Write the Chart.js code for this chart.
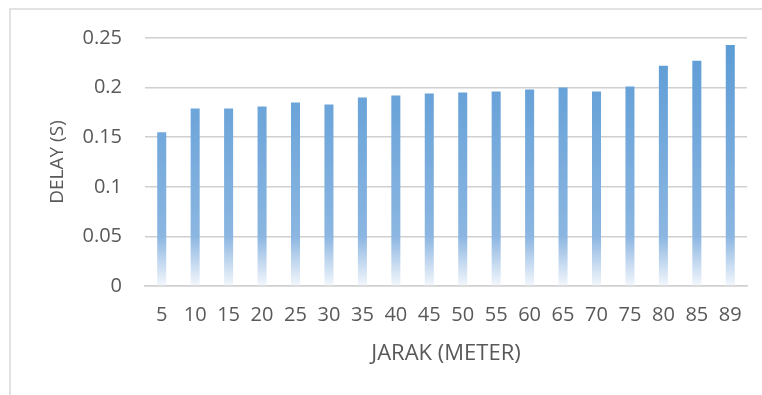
<!DOCTYPE html>
<html>
<head>
<meta charset="utf-8">
<script src="https://cdn.jsdelivr.net/npm/chart.js@4"></script>
<style>
  html, body { margin: 0; padding: 0; background: #fff; }
  #wrap { position: relative; width: 762px; height: 395px; }
</style>
</head>
<body>
<div id="wrap"><canvas id="delay-chart" width="762" height="395"></canvas></div>
<script>
// jarak (meter) vs delay (s)
const jarak = ["5", "10", "15", "20", "25", "30", "35", "40", "45", "50", "55", "60", "65", "70", "75", "80", "85", "89"];
const delay = [0.155, 0.179, 0.179, 0.181, 0.185, 0.183, 0.190, 0.192, 0.194, 0.195, 0.196, 0.198, 0.200, 0.196, 0.201, 0.222, 0.227, 0.243];
const yTicks = [0, 0.05, 0.1, 0.15, 0.2, 0.25];

const abuTeks = "#595959";
const abuGaris = "#d0d0d0";

// warna batang: biru di atas, memudar ke putih dekat sumbu
function isiBatang(context) {
  const chart = context.chart;
  const area = chart.chartArea;
  if (!area) return "#5b9bd5";
  const y = chart.scales.y;
  const g = chart.ctx.createLinearGradient(0, y.getPixelForValue(0.25), 0, y.getPixelForValue(0));
  g.addColorStop(0, "#5b9bd5");
  g.addColorStop(0.8, "#8bb6e1");
  g.addColorStop(0.88, "#b6d0ec");
  g.addColorStop(1, "#f3f7fc");
  return g;
}

// bingkai tipis di sekitar grafik
const bingkai = {
  id: "bingkai",
  beforeDraw(chart) {
    const ctx = chart.ctx;
    ctx.save();
    ctx.strokeStyle = "#d9d9d9";
    ctx.lineWidth = 1.5;
    ctx.beginPath();
    ctx.moveTo(10, 400);
    ctx.lineTo(10, 9);
    ctx.lineTo(770, 9);
    ctx.stroke();
    ctx.restore();
  }
};

new Chart(document.getElementById("delay-chart"), {
  type: "bar",
  data: {
    labels: jarak,
    datasets: [{
      label: "Delay",
      data: delay,
      backgroundColor: isiBatang,
      borderWidth: 0,
      barPercentage: 0.27,
      categoryPercentage: 1
    }]
  },
  options: {
    responsive: false,
    animation: false,
    layout: { padding: { left: 0, top: 38, right: 15, bottom: 0 } },
    plugins: { legend: { display: false }, tooltip: { enabled: false } },
    scales: {
      x: {
        afterFit(scale) { scale.height = 109; },
        grid: { display: false, drawTicks: false },
        border: { display: true, color: abuGaris, width: 1.5 },
        ticks: {
          color: abuTeks,
          font: { family: "Open Sans", size: 20 },
          padding: 17,
          maxRotation: 0,
          autoSkip: false
        },
        title: {
          display: true,
          text: "JARAK (METER)",
          color: abuTeks,
          font: { family: "Open Sans", size: 22 },
          padding: { bottom: 28 }
        }
      },
      y: {
        min: 0,
        max: 0.25,
        afterFit(scale) { scale.width = 145; },
        afterBuildTicks(scale) { scale.ticks = yTicks.map(v => ({ value: v })); },
        grid: { color: abuGaris, lineWidth: 1.5, drawTicks: false },
        border: { display: false },
        ticks: {
          color: abuTeks,
          font: { family: "Open Sans", size: 20 },
          padding: 23,
          callback: v => String(v)
        },
        title: {
          display: true,
          text: "DELAY (S)",
          color: abuTeks,
          font: { family: "Open Sans", size: 19 },
          padding: { top: 46 }
        }
      }
    }
  },
  plugins: [bingkai]
});
</script>
</body>
</html>
